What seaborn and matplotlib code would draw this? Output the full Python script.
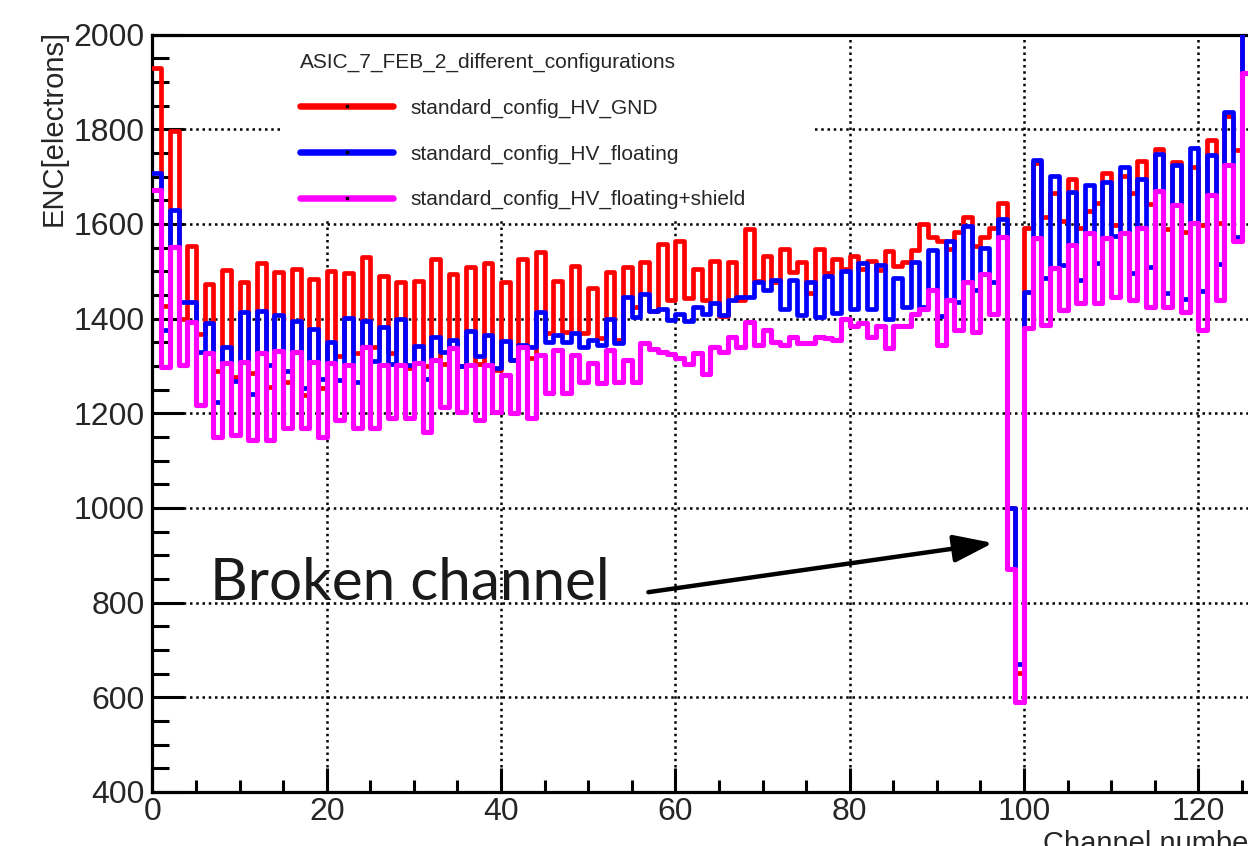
import numpy as np
import pandas as pd
import matplotlib
matplotlib.use("Agg")
import matplotlib.pyplot as plt
import seaborn as sns
from matplotlib.lines import Line2D
from matplotlib.patches import Rectangle
from matplotlib.ticker import MultipleLocator

# ---------------- data ----------------
channels = list(range(128))

enc_hv_gnd = [
    1930, 1427, 1796, 1400, 1553, 1367, 1474, 1289, 1503, 1277,
    1477, 1286, 1517, 1255, 1498, 1267, 1505, 1239, 1484, 1254,
    1501, 1320, 1496, 1327, 1530, 1341, 1489, 1327, 1478, 1295,
    1480, 1300, 1526, 1305, 1494, 1300, 1510, 1305, 1517, 1292,
    1478, 1312, 1526, 1316, 1541, 1369, 1479, 1372, 1512, 1369,
    1465, 1360, 1498, 1355, 1510, 1425, 1520, 1416, 1558, 1439,
    1565, 1443, 1505, 1439, 1522, 1406, 1520, 1440, 1589, 1480,
    1532, 1478, 1548, 1498, 1520, 1455, 1547, 1496, 1527, 1505,
    1532, 1505, 1522, 1502, 1543, 1512, 1520, 1545, 1600, 1573,
    1563, 1548, 1582, 1615, 1554, 1573, 1591, 1645, 1000, 652,
    1591, 1728, 1615, 1665, 1606, 1696, 1591, 1627, 1645, 1707,
    1598, 1702, 1666, 1733, 1642, 1758, 1589, 1730, 1584, 1721,
    1598, 1778, 1603, 1828, 1756, 2050, 1600, 1900,
]

enc_hv_floating = [
    1708, 1377, 1630, 1436, 1436, 1329, 1390, 1223, 1339, 1268,
    1413, 1241, 1416, 1303, 1407, 1290, 1396, 1253, 1378, 1272,
    1351, 1270, 1402, 1267, 1396, 1310, 1383, 1305, 1399, 1302,
    1343, 1272, 1361, 1330, 1354, 1300, 1373, 1320, 1365, 1295,
    1352, 1312, 1345, 1341, 1415, 1351, 1366, 1351, 1370, 1341,
    1355, 1345, 1400, 1348, 1446, 1404, 1451, 1416, 1420, 1398,
    1410, 1394, 1425, 1410, 1432, 1408, 1439, 1446, 1446, 1478,
    1460, 1482, 1420, 1482, 1408, 1478, 1404, 1490, 1411, 1500,
    1420, 1517, 1420, 1513, 1400, 1485, 1425, 1520, 1425, 1545,
    1405, 1563, 1436, 1596, 1460, 1550, 1478, 1610, 1000, 670,
    1457, 1735, 1485, 1702, 1513, 1668, 1482, 1682, 1517, 1689,
    1575, 1721, 1497, 1694, 1510, 1747, 1455, 1725, 1441, 1761,
    1459, 1746, 1515, 1837, 1572, 2050, 1600, 1900,
]

enc_hv_floating_shield = [
    1672, 1297, 1552, 1302, 1392, 1217, 1327, 1150, 1306, 1154,
    1308, 1143, 1327, 1143, 1332, 1168, 1330, 1168, 1308, 1150,
    1306, 1185, 1301, 1168, 1339, 1168, 1302, 1189, 1303, 1189,
    1306, 1160, 1312, 1214, 1337, 1203, 1302, 1186, 1302, 1203,
    1280, 1200, 1341, 1189, 1323, 1242, 1334, 1242, 1323, 1267,
    1306, 1263, 1334, 1267, 1312, 1267, 1348, 1336, 1330, 1325,
    1316, 1305, 1327, 1283, 1340, 1330, 1362, 1340, 1392, 1345,
    1375, 1350, 1345, 1362, 1348, 1348, 1362, 1360, 1355, 1400,
    1385, 1390, 1362, 1385, 1337, 1385, 1385, 1410, 1420, 1460,
    1344, 1440, 1376, 1478, 1372, 1495, 1410, 1573, 870, 590,
    1380, 1570, 1386, 1506, 1418, 1556, 1432, 1580, 1432, 1571,
    1446, 1580, 1439, 1591, 1425, 1670, 1425, 1640, 1415, 1601,
    1376, 1661, 1439, 1724, 1563, 1918, 1560, 1900,
]

series_labels = [
    "standard_config_HV_GND",
    "standard_config_HV_floating",
    "standard_config_HV_floating+shield",
]
series_colors = ["#ff0000", "#0000ff", "#ff00ff"]
series_widths = [3.4, 3.4, 3.7]
legend_title = "ASIC_7_FEB_2_different_configurations"
x_ticks = [0, 20, 40, 60, 80, 100, 120]
y_ticks = [400, 600, 800, 1000, 1200, 1400, 1600, 1800, 2000]
annotation_text = "Broken channel"

# ---------------- figure ----------------
sns.set_theme(style="white")
plt.rcParams["font.family"] = ["Liberation Sans", "DejaVu Sans"]

W, H = 1248, 846
fig = plt.figure(figsize=(W / 100, H / 100), dpi=100)
ax = fig.add_axes([0.12212, 0.06395, 0.89394, 0.89509])

df = pd.DataFrame({
    "channel": np.asarray(channels, dtype=float) + 0.5,
    "gnd": enc_hv_gnd,
    "floating": enc_hv_floating,
    "shield": enc_hv_floating_shield,
})

for col, color, lw in zip(["gnd", "floating", "shield"], series_colors, series_widths):
    sns.histplot(data=df, x="channel", weights=col, binwidth=1,
                 binrange=(0, len(channels)),
                 element="step", fill=False, color=color,
                 linewidth=lw, ax=ax, zorder=3)

ax.set_xlim(0, 128)
ax.set_ylim(400, 2000)
ax.set_xticks(x_ticks)
ax.set_yticks(y_ticks)
ax.xaxis.set_minor_locator(MultipleLocator(5))
ax.yaxis.set_minor_locator(MultipleLocator(50))

ax.grid(True, which="major", color="black", linestyle=(0, (1, 1.5)), linewidth=1.8)
ax.set_axisbelow(True)

for side in ["left", "bottom", "top"]:
    ax.spines[side].set_visible(True)
    ax.spines[side].set_color("black")
    ax.spines[side].set_linewidth(2.3)
ax.spines["right"].set_visible(False)

ax.tick_params(axis="both", which="both", direction="in", color="black",
               left=True, bottom=True, top=False, right=False, width=2.2)
ax.tick_params(axis="x", which="major", length=17, labelsize=23, pad=4)
ax.tick_params(axis="x", which="minor", length=8.5)
ax.tick_params(axis="y", which="major", length=23, labelsize=23, pad=5.5)
ax.tick_params(axis="y", which="minor", length=12)

ax.set_ylabel("ENC[electrons]", fontsize=21, loc="top")
ax.yaxis.set_label_coords(-0.0757, 1.006)
ax.set_xlabel("Channel number", fontsize=21, loc="right")
ax.xaxis.set_label_coords(0.991, -0.050)

# white legend background (ROOT TLegend without border)
ax.add_patch(Rectangle((280 / W, (H - 219) / H), (815 - 280) / W, (219 - 34) / H,
                       transform=fig.transFigure, facecolor="white",
                       edgecolor="none", zorder=2))

handles = [Line2D([0], [0], color=c, lw=4.7, marker="s", markersize=2,
                  markerfacecolor="black", markeredgecolor="black")
           for c in series_colors]
leg = ax.legend(handles, series_labels, title=legend_title,
                loc="upper left", bbox_to_anchor=(300 / W, (H - 53) / H),
                bbox_transform=fig.transFigure, frameon=False,
                fontsize=15, title_fontsize=15, alignment="left",
                handlelength=4.47, handletextpad=0.82, labelspacing=1.27,
                borderpad=0, borderaxespad=0, numpoints=1)
leg.set_zorder(5)

ax.text(6.63, 805, annotation_text, fontsize=42, family=["Lato", "DejaVu Sans"],
        color="#1a1a1a", ha="left", va="baseline", zorder=6)
ax.annotate("", xy=(96.44, 926), xytext=(56.9, 822),
            arrowprops=dict(arrowstyle="-|>,head_length=1.0,head_width=0.35",
                            color="black", lw=3.2, mutation_scale=24,
                            shrinkA=0, shrinkB=0), zorder=6)

fig.savefig("out.png", dpi=100)
